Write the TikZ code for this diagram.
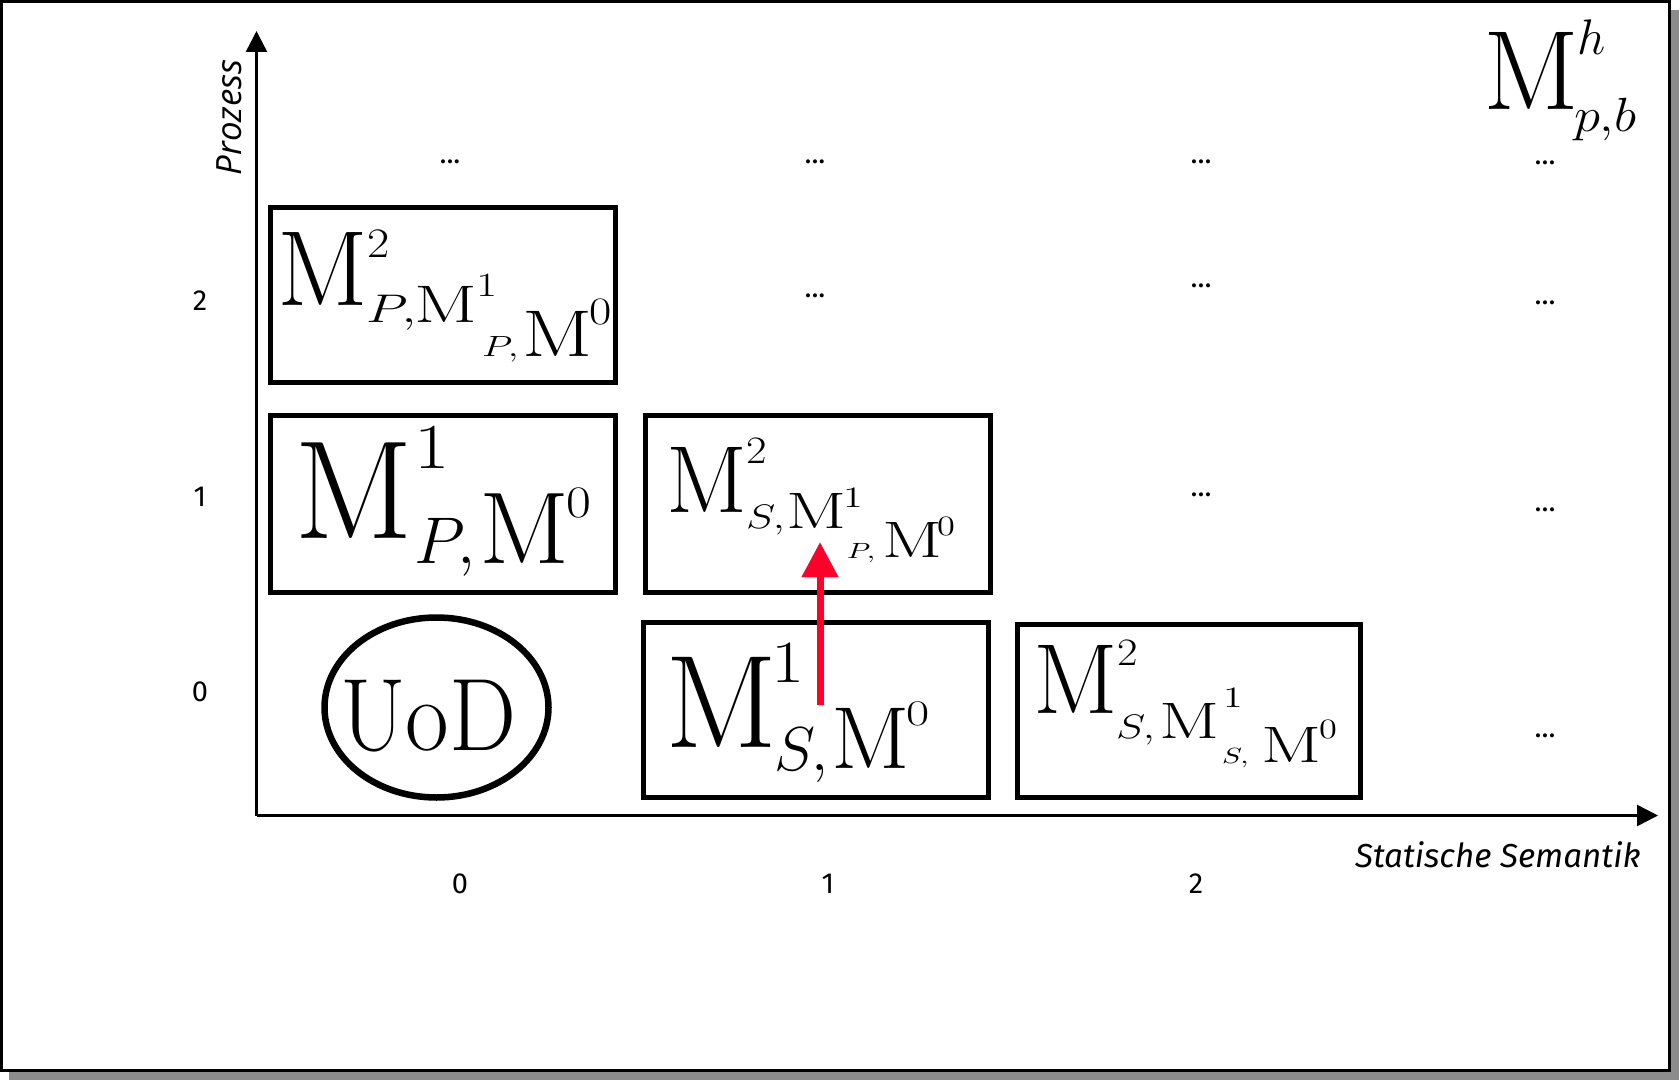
\RequirePackage{fix-cm}
\documentclass[tikz,border=0pt]{standalone}
\usepackage{fontspec}
\usepackage{graphicx}
\usetikzlibrary{arrows.meta,shapes.geometric}
\newfontfamily\labfont{Fira Sans}
\newfontfamily\prozfont{Open Sans}
\definecolor{shadowgray}{RGB}{140,140,140}
\definecolor{arrowred}{RGB}{255,0,43}
% piece: x-offset (pt), raise (pt), size (pt), horizontal stretch, math content
\newcommand\pcs[5]{\makebox[0pt][l]{\kern#1pt\raisebox{#2pt}{\scalebox{#4}[1]{\fontsize{#3}{#3}\selectfont$#5$}}}}
\newcommand\fmM[1]{\makebox[0pt][l]{\fontsize{#1}{#1}\selectfont$\mathrm{M}$}}
\tikzset{
  mbox/.style={draw, rectangle, line width=2.5pt, inner sep=0pt},
  formula/.style={anchor=base west, inner sep=0pt, outer sep=0pt},
  axisline/.style={line width=1.25pt, -{Triangle[length=10.5pt,width=10.5pt]}},
  redarrow/.style={arrowred, line width=3.5pt, -{Triangle[length=17.5pt,width=17.5pt]}},
  tick/.style={inner sep=0pt, font={\labfont\fontsize{14.5}{14.5}\selectfont}},
  dotsnode/.style={anchor=base, inner sep=0pt, font={\labfont\fontsize{14.5}{14.5}\selectfont}},
}
\begin{document}
\begin{tikzpicture}[x=0.5pt, y=-0.5pt]
\useasboundingbox (0,0) rectangle (1679,1080);
% frame with shadow
\fill[shadowgray] (9,10) rectangle (1679,1080);
\draw[line width=1.5pt, fill=white] (1.5,1.5) rectangle (1669.5,1070.5);

% axes
\coordinate (origin) at (256.5,815.5);
\coordinate (ytip) at (256.5,31);
\coordinate (xtip) at (1658,815.5);
\draw[axisline] (origin) -- (ytip);
\draw[axisline] (origin) -- (xtip);

\node[rotate=90, anchor=base, inner sep=0pt, font={\prozfont\itshape\fontsize{17.4}{17.4}\selectfont}] (ylab) at (241,117.5) {Prozess};
\node[anchor=base east, inner sep=0pt, font={\labfont\itshape\fontsize{16.6}{16.6}\selectfont}] (xlab) at (1641,867) {Statische Semantik};

% tick labels
\node[tick] (ty2) at (200,301) {2};
\node[tick] (ty1) at (200,497) {1};
\node[tick] (ty0) at (200,692) {0};
\node[tick] (tx0) at (460,884) {0};
\node[tick] (tx1) at (828,884) {1};
\node[tick] (tx2) at (1196,884) {2};

% dots
\node[dotsnode] (d30) at (450,164) {...};
\node[dotsnode] (d31) at (815,164) {...};
\node[dotsnode] (d32) at (1201,164) {...};
\node[dotsnode] (d33) at (1545,165) {...};
\node[dotsnode] (d21) at (815,298) {...};
\node[dotsnode] (d22) at (1201,288) {...};
\node[dotsnode] (d23) at (1545,305) {...};
\node[dotsnode] (d12) at (1201,496) {...};
\node[dotsnode] (d13) at (1545,511) {...};
\node[dotsnode] (d03) at (1545,737) {...};

% boxes
\node[mbox, minimum width=172.5pt, minimum height=87.5pt] (boxA) at (443,295) {};
\node[mbox, minimum width=172.5pt, minimum height=88.5pt] (boxB) at (443,504) {};
\node[mbox, minimum width=172.5pt, minimum height=88.5pt] (boxC) at (818,504) {};
\node[mbox, minimum width=172.5pt, minimum height=87.5pt] (boxD) at (816,710) {};
\node[mbox, minimum width=171.5pt, minimum height=86.5pt] (boxE) at (1189,711) {};
\node[draw, ellipse, line width=3.25pt, inner sep=0pt, minimum width=112pt, minimum height=90pt] (uod) at (436.5,707.5) {};

% formulas
\node[formula] (fA) at (276,306) {\fmM{53.4}\pcs{45}{24}{21}{1.15}{2}\pcs{44.5}{-8.5}{20}{1.35}{P,}\pcs{68.5}{-8.5}{26.4}{1.4}{\mathrm{M}}\pcs{99.5}{4.5}{17}{1.35}{1}\pcs{102.5}{-25.5}{14.6}{1.35}{P,}\pcs{122.5}{-25.5}{33}{1.25}{\mathrm{M}}\pcs{156}{-9.5}{19.4}{1.25}{0}};
\node[formula] (fB) at (293,538) {\fmM{70}\pcs{60}{35}{32}{1.2}{1}\pcs{60}{-12.5}{33}{1}{P,}\pcs{92.5}{-12.5}{51}{1.04}{\mathrm{M}}\pcs{136}{10.5}{22.5}{1.2}{0}};
\node[formula] (fC) at (665,512) {\fmM{47.6}\pcs{40}{24.5}{19.4}{1.15}{2}\pcs{40}{-8}{17}{1.3}{S,}\pcs{60}{-8}{25.6}{1.38}{\mathrm{M}}\pcs{88.5}{2.5}{14.8}{1.35}{1}\pcs{90.5}{-23}{11}{1.35}{P,}\pcs{108}{-22.5}{25.6}{1.38}{\mathrm{M}}\pcs{135.5}{-11.5}{14}{1.3}{0}};
\node[formula] (fD) at (664,747) {\fmM{66}\pcs{53}{32.5}{30}{1.2}{1}\pcs{54.5}{-11.5}{31}{1}{S,}\pcs{83}{-10.5}{44}{1.05}{\mathrm{M}}\pcs{120.5}{11}{18}{1.4}{0}};
\node[formula] (fE) at (1032,713) {\fmM{49.8}\pcs{42}{24}{19.4}{1.15}{2}\pcs{41.5}{-12.5}{17}{1.3}{S,}\pcs{63}{-12.5}{25.6}{1.38}{\mathrm{M}}\pcs{95}{3}{14.8}{1.35}{1}\pcs{94.5}{-25}{11}{1.35}{S,}\pcs{114}{-24.5}{25.6}{1.38}{\mathrm{M}}\pcs{143}{-12.5}{14}{1.3}{0}};
\node[formula] (fTR) at (1482,110) {\fmM{56.4}\pcs{47}{27.5}{25}{1}{h}\pcs{45.5}{-11}{24}{1.1}{p{,}b}};
\node[formula] (fU) at (340,750) {\scalebox{0.92}[1]{\fontsize{51.5}{51.5}\selectfont UoD}};

% red arrow
\coordinate (redstart) at (820,705);
\coordinate (redend) at (820,542);
\draw[redarrow] (redstart) -- (redend);
\end{tikzpicture}
\end{document}
